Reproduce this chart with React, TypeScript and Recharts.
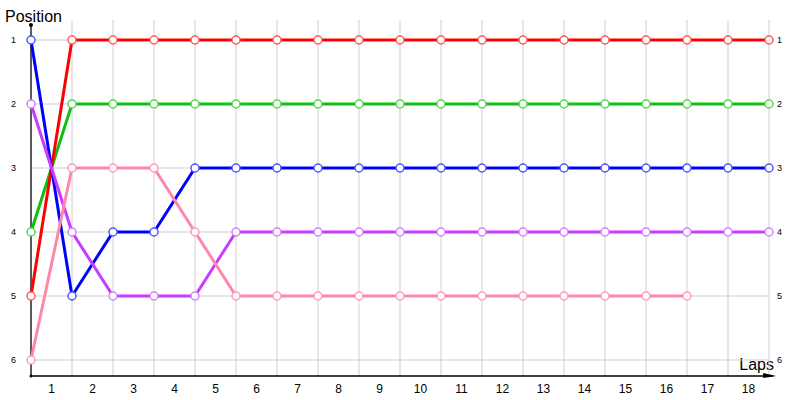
import React from 'react';
import { LineChart, Line, XAxis, YAxis, ReferenceLine, ReferenceDot } from 'recharts';

const laps = [0, 1, 2, 3, 4, 5, 6, 7, 8, 9, 10, 11, 12, 13, 14, 15, 16, 17, 18];
const redPos = [5, 1, 1, 1, 1, 1, 1, 1, 1, 1, 1, 1, 1, 1, 1, 1, 1, 1, 1];
const greenPos = [4, 2, 2, 2, 2, 2, 2, 2, 2, 2, 2, 2, 2, 2, 2, 2, 2, 2, 2];
const bluePos = [1, 5, 4, 4, 3, 3, 3, 3, 3, 3, 3, 3, 3, 3, 3, 3, 3, 3, 3];
const purplePos = [2, 4, 5, 5, 5, 4, 4, 4, 4, 4, 4, 4, 4, 4, 4, 4, 4, 4, 4];
const pinkPos = [6, 3, 3, 3, 4, 5, 5, 5, 5, 5, 5, 5, 5, 5, 5, 5, 5, null, null];

const positionTicks = [1, 2, 3, 4, 5, 6];
const lapLabelTicks = [0.5, 1.5, 2.5, 3.5, 4.5, 5.5, 6.5, 7.5, 8.5, 9.5, 10.5, 11.5, 12.5, 13.5, 14.5, 15.5, 16.5, 17.5];
const gridLaps = [1, 2, 3, 4, 5, 6, 7, 8, 9, 10, 11, 12, 13, 14, 15, 16, 17, 18];

const data = laps.map((lap, i) => ({
  lap,
  red: redPos[i],
  green: greenPos[i],
  blue: bluePos[i],
  purple: purplePos[i],
  pink: pinkPos[i],
}));

const series = [
  { key: 'green', line: '#10c010', dot: '#55d555' },
  { key: 'red', line: '#ff0000', dot: '#ff5a5a' },
  { key: 'blue', line: '#0000ff', dot: '#5555ff' },
  { key: 'purple', line: '#c83cff', dot: '#d580ff' },
  { key: 'pink', line: '#ff88aa', dot: '#ff9ab8' },
];

const X_MAX = 18.195;
const Y_TOP = 0.6875;
const Y_BOTTOM = 6.25;
const FONT = '"Liberation Sans", Arial, sans-serif';

const Arrow = (props: any) => {
  const { cx, cy } = props;
  return <path d={`M ${cx - 12} ${cy - 3} L ${cx + 1} ${cy} L ${cx - 12} ${cy + 2} Z`} fill="#000" />;
};

export default function App() {
  return (
    <div style={{ position: 'absolute', left: 0, top: 0, width: 800, height: 400, background: '#fff' }}>
      <LineChart width={800} height={400} data={data} margin={{ top: 20, right: 0, bottom: 0, left: 0 }}>
        <XAxis
          dataKey="lap"
          type="number"
          domain={[0, X_MAX]}
          ticks={lapLabelTicks}
          tickFormatter={(v: number) => String(v + 0.5)}
          axisLine={false}
          tickLine={false}
          tickSize={0}
          tickMargin={8}
          height={24}
          tick={{ fontSize: 12, fill: '#000', fontFamily: FONT }}
          interval={0}
        />
        <YAxis
          yAxisId="l"
          type="number"
          domain={[Y_TOP, Y_BOTTOM]}
          reversed
          ticks={positionTicks}
          axisLine={false}
          tickLine={false}
          tickSize={0}
          tickMargin={15}
          width={31}
          tick={{ fontSize: 9, fill: '#000', fontFamily: FONT }}
          allowDataOverflow
          interval={0}
        />
        <YAxis
          yAxisId="r"
          orientation="right"
          type="number"
          domain={[Y_TOP, Y_BOTTOM]}
          reversed
          ticks={positionTicks}
          axisLine={false}
          tickLine={false}
          tickSize={0}
          tickMargin={0}
          width={23}
          tick={{ fontSize: 9, fill: '#000', fontFamily: FONT, textAnchor: 'start' }}
          allowDataOverflow
          interval={0}
        />
        {gridLaps.map((k) => (
          <ReferenceLine key={'v' + k} yAxisId="l" x={k} stroke="#cfcfcf" strokeWidth={1} />
        ))}
        {positionTicks.map((k) => (
          <ReferenceLine
            key={'h' + k}
            yAxisId="l"
            segment={[{ x: 0, y: k }, { x: 18, y: k }]}
            stroke="#cfcfcf"
            strokeWidth={1}
          />
        ))}
        <ReferenceLine
          yAxisId="l"
          segment={[{ x: 0, y: 0.766 }, { x: 0, y: Y_BOTTOM }]}
          stroke="#000"
          strokeWidth={1.3}
          ifOverflow="visible"
        />
        <ReferenceLine
          yAxisId="l"
          segment={[{ x: 0, y: Y_BOTTOM }, { x: 18.1, y: Y_BOTTOM }]}
          stroke="#000"
          strokeWidth={1.3}
          ifOverflow="visible"
        />
        <ReferenceDot yAxisId="l" x={0} y={0.766} r={2} fill="#000" stroke="none" ifOverflow="visible" />
        <ReferenceDot yAxisId="l" x={0} y={Y_BOTTOM} r={1.5} fill="#000" stroke="none" ifOverflow="visible" />
        <ReferenceDot yAxisId="l" x={18.15} y={Y_BOTTOM} r={2} shape={Arrow} ifOverflow="visible" />
        {series.map((s) => (
          <Line
            key={s.key}
            yAxisId="l"
            type="linear"
            dataKey={s.key}
            stroke={s.line}
            strokeWidth={3}
            dot={{ r: 4, fill: '#fff', stroke: s.dot, strokeWidth: 1.5 }}
            activeDot={false}
            isAnimationActive={false}
            connectNulls={false}
          />
        ))}
        <text x={5} y={22} fontSize={16} fontFamily={FONT} fill="#000">Position</text>
        <text x={774} y={370} fontSize={16} fontFamily={FONT} fill="#000" textAnchor="end">Laps</text>
      </LineChart>
    </div>
  );
}
